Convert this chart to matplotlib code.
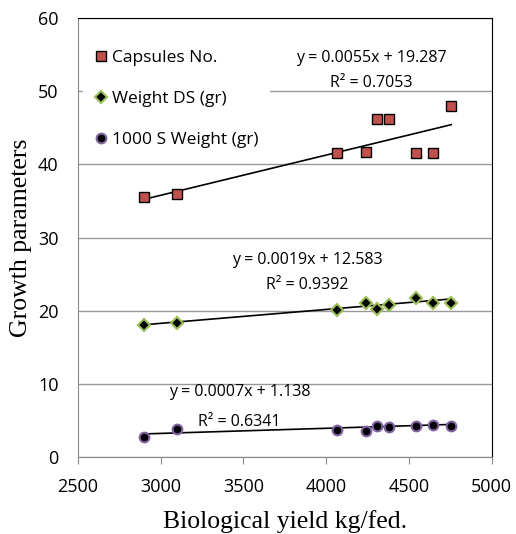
import numpy as np
import matplotlib
matplotlib.use("Agg")
from matplotlib import pyplot as plt

# data
yield_x = [2900, 3100, 4065, 4240, 4305, 4380, 4540, 4645, 4755]
capsules = [35.5, 35.9, 41.6, 41.7, 46.2, 46.2, 41.5, 41.5, 48.0]
weight_ds = [18.0, 18.3, 20.1, 21.0, 20.2, 20.8, 21.7, 21.0, 21.1]
seed_weight = [2.7, 3.9, 3.7, 3.5, 4.3, 4.1, 4.2, 4.4, 4.3]

# trendline coefficients (slope, intercept, R^2) as printed
fit_caps = (0.0055, 19.287, 0.7053)
fit_ds = (0.0019, 12.583, 0.9392)
fit_seed = (0.0007, 1.138, 0.6341)

sans = "Open Sans"
serif = "Liberation Serif"

fig = plt.figure(figsize=(5.16, 5.34), dpi=100)
ax = fig.add_axes([0.151, 0.144, 0.802, 0.822])

ax.plot(yield_x, capsules, "s", ms=6.5, mfc="#C0504D", mec="black", mew=1,
        label="Capsules No.", zorder=4)
ax.plot(yield_x, weight_ds, "D", ms=6, mfc="black", mec="#9BBB59", mew=1.5,
        label="Weight DS (gr)", zorder=4)
ax.plot(yield_x, seed_weight, "o", ms=7, mfc="black", mec="#8064A2", mew=1.5,
        label="1000 S Weight (gr)", zorder=4)

xs = np.array([min(yield_x), max(yield_x)])
for m, b, r2 in (fit_caps, fit_ds, fit_seed):
    ax.plot(xs, m * xs + b, color="black", lw=1.2, zorder=3)

txt = dict(fontsize=11.5, family=sans, ha="center", va="center")
ax.text(4275, 54.5, "y = 0.0055x + 19.287", **txt)
ax.text(4275, 51.2, "R² = 0.7053", **txt)
ax.text(3883, 27.0, "y = 0.0019x + 12.583", **txt)
ax.text(3883, 23.5, "R² = 0.9392", **txt)
ax.text(3477, 8.9, "y = 0.0007x + 1.138", **txt)
ax.text(3472, 4.8, "R² = 0.6341", **txt)

ax.set_xlim(2500, 5000)
ax.set_ylim(0, 60)
ax.set_xticks(np.arange(2500, 5001, 500))
ax.set_yticks(np.arange(0, 61, 10))
ax.yaxis.grid(True, color="#999999", lw=1)
ax.set_axisbelow(True)

for side in ("top", "right"):
    ax.spines[side].set_color("black")
for side in ("left", "bottom"):
    ax.spines[side].set_color("#888888")
ax.tick_params(axis="y", length=0, pad=14)
ax.tick_params(axis="x", length=5, color="#888888", pad=10)
for lab in ax.get_xticklabels() + ax.get_yticklabels():
    lab.set_family(sans)
    lab.set_fontsize(13)

ax.set_xlabel("Biological yield kg/fed.", family=serif, fontsize=18.5)
ax.set_ylabel("Growth parameters", family=serif, fontsize=18.5)
ax.xaxis.set_label_coords(0.5, -0.12)
ax.yaxis.set_label_coords(-0.11, 0.5)

leg = ax.legend(loc="upper left", bbox_to_anchor=(-0.008, 0.972), prop={"family": sans, "size": 12.5},
                frameon=True, fancybox=False, edgecolor="white", framealpha=1,
                handlelength=0.8, handletextpad=0.25, labelspacing=1.45, borderpad=0.6)
leg.set_zorder(5)

fig.savefig("out.png", dpi=100)
